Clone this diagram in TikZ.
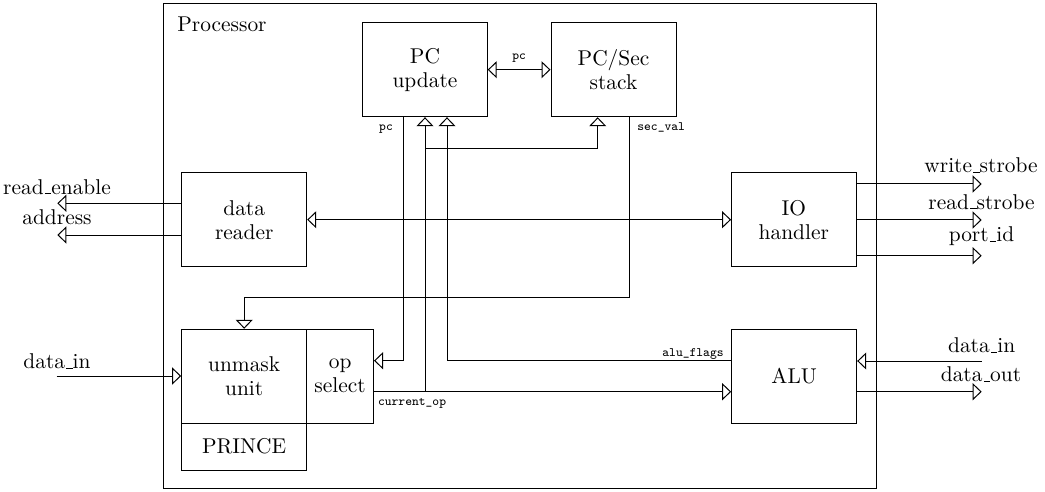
\documentclass[tikz,border=0pt]{standalone}
\usetikzlibrary{arrows.meta,calc}
\newcommand{\usc}{\leavevmode\kern.06em\vbox{\hrule width.3em}}
\begin{document}
\begin{tikzpicture}[x=0.5pt,y=-0.5pt,
  font=\fontsize{10.7}{12}\selectfont,
  box/.style={draw,line width=0.5pt,inner sep=0pt,minimum width=62.5pt,minimum height=47pt,align=center},
  conn/.style={line width=0.5pt},
  >={Triangle[open,length=4.5pt,width=8.5pt]},
  sig/.style={font=\fontsize{6.4}{7.5}\selectfont\ttfamily,inner sep=0pt},
  lbl/.style={inner sep=0pt,anchor=base}]
\useasboundingbox (0,0) rectangle (1045,492);
% processor frame
\node[draw,line width=0.5pt,inner sep=0pt,minimum width=356.5pt,minimum height=242pt] (proc) at (519.5,246) {};
\node[lbl,anchor=base west] (proclbl) at (177,31.7) {Processor};
% blocks
\node[box,minimum width=62.2pt] (pcu) at (425,69.7) {PC\\update};
\node[box] (stack) at (613.5,69.7) {PC/Sec\\stack};
\node[box] (reader) at (244.2,219.7) {data\\reader};
\node[box,minimum width=62.2pt] (io) at (793.8,219.7) {IO\\handler};
\node[box] (unmask) at (244.2,376.3) {unmask\\unit};
\node[box,minimum width=33.4pt] (opsel) at (340.1,376.3) {op\\select};
\node[box,minimum height=23.35pt] (prince) at (244.2,446.65) {PRINCE};
\node[box] (alu) at (794.2,376) {ALU};
% free ends
\coordinate (reEnd) at (57.3,203.3);
\coordinate (adEnd) at (57.3,235);
\coordinate (dinL) at (56.7,376);
\coordinate (wsEnd) at (981.7,184);
\coordinate (rsEnd) at (981.7,220);
\coordinate (piEnd) at (981.7,255.7);
\coordinate (dinR) at (981.7,361);
\coordinate (doEnd) at (981.7,391.7);
% pc between PC update and stack
\draw[conn,<->] (pcu.east) -- (stack.west) node[sig,midway,above=3.5pt] {pc};
% pc to op select
\draw[conn,->] ($(pcu.south)+(-21.7,0)$) |- ($(opsel.east)+(0,-15.6)$);
\node[sig,anchor=base] (pclbl) at (386,131) {pc};
% current_op
\coordinate (cop) at ($(opsel.east)+(0,15.4)$);
\draw[conn,->] (cop) -- (cop -| alu.west);
\node[sig,anchor=base west] (coplbl) at (377.7,405) {current\_op};
\draw[conn,->] (cop -| pcu.south) -- (pcu.south);
\coordinate (br) at ($(pcu.south)+(0,31)$);
\draw[conn,->] (br) -| ($(stack.south)+(-15.8,0)$);
% alu flags
\draw[conn,->] ($(alu.west)+(0,-15.3)$) -| ($(pcu.south)+(22,0)$);
\node[sig,anchor=base east] (aflbl) at (724,356) {alu\_flags};
% sec_val
\draw[conn,->] ($(stack.south)+(15.8,0)$) |- ($(unmask.north)+(0,-31.6)$) -- (unmask.north);
\node[sig,anchor=base west] (svlbl) at (637,131) {sec\_val};
% reader <-> io
\draw[conn,<->] (reader.east) -- (io.west);
% reader outputs
\draw[conn,->] (reader.west |- reEnd) -- (reEnd);
\draw[conn,->] (reader.west |- adEnd) -- (adEnd);
\node[lbl] (relbl) at (57,194) {read\usc enable};
\node[lbl] (adlbl) at (57,225) {address};
% io outputs
\draw[conn,->] (io.east |- wsEnd) -- (wsEnd);
\draw[conn,->] (io.east |- rsEnd) -- (rsEnd);
\draw[conn,->] (io.east |- piEnd) -- (piEnd);
\node[lbl] (wslbl) at (981,173) {write\usc strobe};
\node[lbl] (rslbl) at (981.5,209.3) {read\usc strobe};
\node[lbl] (pilbl) at (981.5,241.7) {port\usc id};
% data_in left
\draw[conn,->] (dinL) -- (unmask.west |- dinL);
\node[lbl] (dinLlbl) at (57,368.5) {data\usc in};
% alu io
\draw[conn,->] (dinR) -- (alu.east |- dinR);
\draw[conn,->] (alu.east |- doEnd) -- (doEnd);
\node[lbl] (dinRlbl) at (981.7,352.7) {data\usc in};
\node[lbl] (dolbl) at (981,381.7) {data\usc out};
\end{tikzpicture}
\end{document}
